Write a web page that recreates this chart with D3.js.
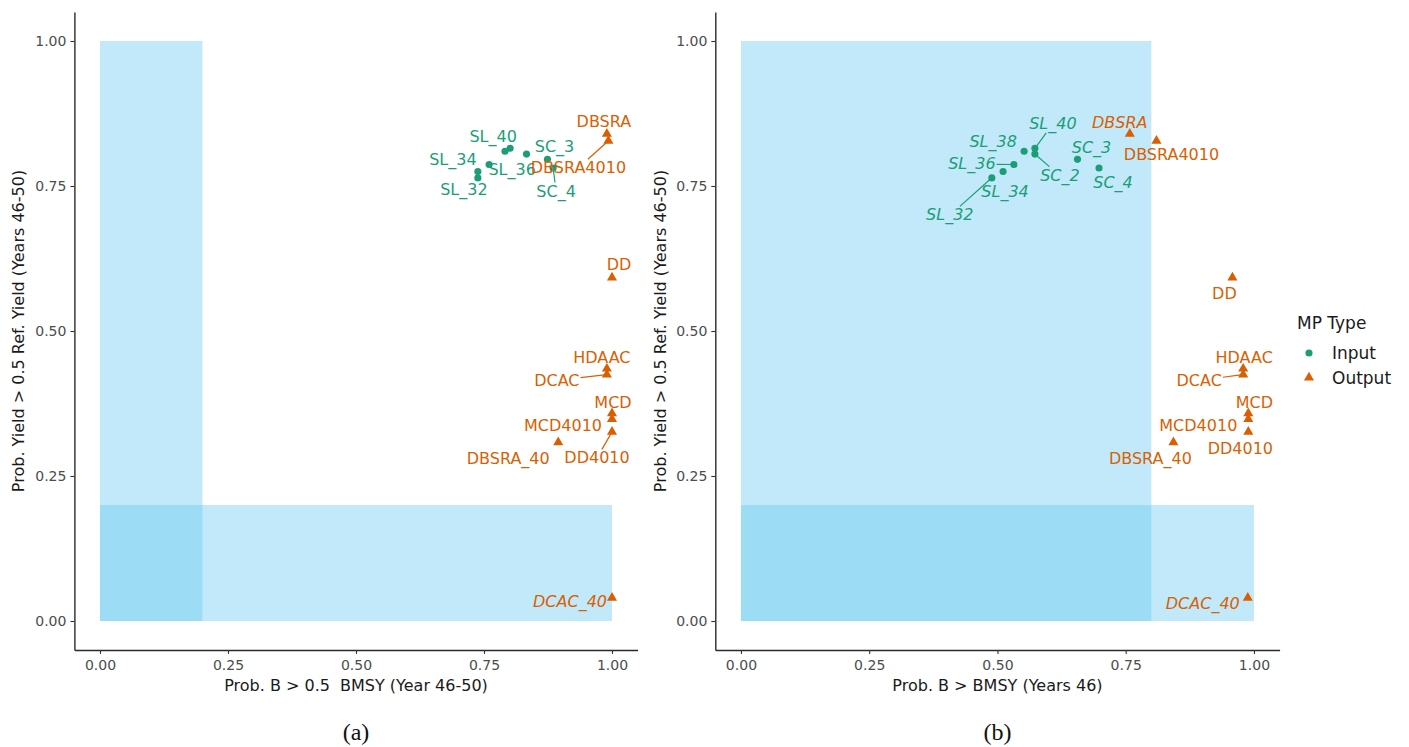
<!DOCTYPE html>
<html>
<head>
<meta charset="utf-8">
<script src="https://cdn.jsdelivr.net/npm/d3@7"></script>
<style>
  body { margin: 0; background: #ffffff; }
  svg text { font-family: "DejaVu Sans", sans-serif; }
</style>
</head>
<body>
<svg id="chart" width="1409" height="747"></svg>
<script>
// Management procedures and their performance statistics
const mpNames = ["SL_32", "SL_34", "SL_36", "SL_38", "SL_40", "SC_2", "SC_3", "SC_4",
                 "DBSRA", "DBSRA4010", "DD", "HDAAC", "DCAC", "MCD", "MCD4010", "DD4010",
                 "DBSRA_40", "DCAC_40"];
const mpTypes = ["Input", "Input", "Input", "Input", "Input", "Input", "Input", "Input",
                 "Output", "Output", "Output", "Output", "Output", "Output", "Output", "Output",
                 "Output", "Output"];
// Prob. Yield > 0.5 Ref. Yield (Years 46-50)
const probYield = [0.764, 0.775, 0.787, 0.810, 0.815, 0.805, 0.796, 0.781,
                   0.840, 0.828, 0.592, 0.435, 0.425, 0.358, 0.348, 0.326,
                   0.308, 0.040];
// Prob. B > 0.5 BMSY (Year 46-50)
const probB05 = [0.738, 0.738, 0.760, 0.791, 0.801, 0.833, 0.874, 0.885,
                 0.990, 0.993, 1.000, 0.990, 0.990, 1.000, 1.000, 1.000,
                 0.895, 1.000];
// Prob. B > BMSY (Years 46)
const probBmsy = [0.489, 0.511, 0.532, 0.552, 0.573, 0.573, 0.656, 0.698,
                  0.758, 0.810, 0.958, 0.979, 0.979, 0.989, 0.989, 0.989,
                  0.843, 0.988];

const tickValues = [0, 0.25, 0.5, 0.75, 1];
const typeNames = ["Input", "Output"];
const typeColors = ["#1b9e77", "#d95f02"];

// Repelled label placement (pixel offsets from each point); null = label dropped
const labelOffsetsA = [[-14, 12], [-25, -12], [23, 5], null, [-17, -12], null, [7, -13], [3, 23],
                       [-3, -12], [-30, 27], [7, -13], [-5, -11], [-50, 6], [1, -11], [-49, 6], [-15, 26],
                       [-50, 16], [-42, 4]];
const labelOffsetsB = [[-42, 37], [2, 20], [-42, -1], [-31, -10], [18, -25], [25, 21], [14, -12], [14, 14],
                       [-10, -11], [15, 14], [-8, 16], [1, -11], [-44, 6], [6, -11], [-50, 6], [-8, 17],
                       [-23, 16], [-45, 6]];
const leadersA = ["SC_4", "DBSRA4010", "DCAC", "DD4010"];
const leadersB = ["SL_32", "SL_36", "SL_40", "SC_2", "DCAC"];

const panels = [
  { x0: 74.4, x1: 637.6, xValues: probB05, shadeX: 0.2,
    xTitle: "Prob. B > 0.5\u00a0\u00a0BMSY (Year 46-50)", caption: "(a)",
    offsets: labelOffsetsA, leaders: leadersA, yTitleX: 18 },
  { x0: 715.3, x1: 1279.6, xValues: probBmsy, shadeX: 0.8,
    xTitle: "Prob. B > BMSY (Years 46)", caption: "(b)",
    offsets: labelOffsetsB, leaders: leadersB, yTitleX: 660 }
];

const svg = d3.select("#chart");
const yTop = 12, yBottom = 650;
const color = d3.scaleOrdinal().domain(typeNames).range(typeColors);
const symbolFor = t => t === "Input" ? d3.symbolCircle : d3.symbolTriangle;
const symbolSize = t => t === "Input" ? 40 : 44;

panels.forEach(p => {
  const x = d3.scaleLinear().domain([-0.05, 1.05]).range([p.x0, p.x1]);
  const y = d3.scaleLinear().domain([-0.05, 1.05]).range([yBottom, yTop]);
  const g = svg.append("g");

  // shaded target regions
  const shades = [
    { xa: 0, xb: p.shadeX, ya: 0, yb: 1 },
    { xa: 0, xb: 1, ya: 0, yb: 0.2 }
  ];
  g.selectAll("rect.shade").data(shades).join("rect")
    .attr("class", "shade")
    .attr("x", d => x(d.xa)).attr("width", d => x(d.xb) - x(d.xa))
    .attr("y", d => y(d.yb)).attr("height", d => y(d.ya) - y(d.yb))
    .attr("fill", "rgb(100,200,240)").attr("fill-opacity", 0.4);

  // axes
  const xAxis = g.append("g").attr("transform", `translate(0,${yBottom})`)
    .call(d3.axisBottom(x).tickValues(tickValues).tickFormat(d3.format(".2f")).tickSize(4).tickSizeOuter(0));
  const yAxis = g.append("g").attr("transform", `translate(${p.x0},0)`)
    .call(d3.axisLeft(y).tickValues(tickValues).tickFormat(d3.format(".2f")).tickSize(4).tickSizeOuter(0));
  [xAxis, yAxis].forEach(a => {
    a.select(".domain").attr("stroke", "#2b2b2b").attr("stroke-width", 1.4);
    a.selectAll(".tick line").attr("stroke", "#333").attr("stroke-width", 1.1);
    a.selectAll(".tick text").attr("fill", "#4d4d4d").style("font-size", "14px")
      .style("font-family", "DejaVu Sans, sans-serif");
  });
  xAxis.selectAll(".tick text").attr("dy", "0.9em");
  yAxis.selectAll(".tick text").attr("x", -8);

  // axis titles
  g.append("text").attr("x", (x(0) + x(1)) / 2).attr("y", 691)
    .attr("text-anchor", "middle").attr("fill", "#1a1a1a").style("font-size", "16px")
    .text(p.xTitle);
  g.append("text").attr("transform", `translate(${p.yTitleX + 6},${(y(0) + y(1)) / 2}) rotate(-90)`)
    .attr("text-anchor", "middle").attr("fill", "#1a1a1a").style("font-size", "16px")
    .text("Prob. Yield > 0.5 Ref. Yield (Years 46-50)");

  // caption
  g.append("text").attr("x", (x(0) + x(1)) / 2).attr("y", 740)
    .attr("text-anchor", "middle").attr("fill", "#111")
    .style("font-family", "Liberation Serif, serif").style("font-size", "24px")
    .text(p.caption);

  const rows = mpNames.map((name, i) => ({
    name, type: mpTypes[i], bx: p.xValues[i], yy: probYield[i], off: p.offsets[i],
    px: x(p.xValues[i]), py: y(probYield[i])
  }));

  // points
  g.selectAll("path.pt").data(rows).join("path")
    .attr("class", "pt")
    .attr("transform", d => `translate(${d.px},${d.py})`)
    .attr("d", d => d3.symbol().type(symbolFor(d.type)).size(symbolSize(d.type))())
    .attr("fill", d => color(d.type));

  // labels (italic when the MP sits inside a shaded region)
  const labelled = rows.filter(d => d.off);
  const labels = g.selectAll("text.lab").data(labelled).join("text")
    .attr("class", "lab")
    .attr("x", d => d.px + d.off[0]).attr("y", d => d.py + d.off[1])
    .attr("text-anchor", "middle").attr("dominant-baseline", "central")
    .attr("fill", d => color(d.type))
    .style("font-size", "16px")
    .style("font-style", d => ((d.bx >= 0 && d.bx <= p.shadeX) || d.yy <= 0.2) ? "italic" : "normal")
    .text(d => d.name);

  // leader segments: from where the centre-to-point line leaves the label box, to the point
  labels.each(function(d) {
    if (!p.leaders.includes(d.name)) return;
    const b = this.getBBox();
    const cx = b.x + b.width / 2, cy = b.y + b.height / 2;
    const hw = b.width / 2 + 1, hh = b.height / 2 - 1;
    const dx = d.px - cx, dy = d.py - cy, len = Math.hypot(dx, dy);
    const t = Math.min(dx !== 0 ? hw / Math.abs(dx) : Infinity, dy !== 0 ? hh / Math.abs(dy) : Infinity);
    const pad = 2.5;
    g.insert("line", "text.lab")
      .attr("x1", cx + dx * t).attr("y1", cy + dy * t)
      .attr("x2", d.px - dx / len * pad).attr("y2", d.py - dy / len * pad)
      .attr("stroke", color(d.type)).attr("stroke-width", 1.2);
  });
});

// legend
const legend = svg.append("g");
legend.append("text").attr("x", 1297).attr("y", 323).attr("dominant-baseline", "central")
  .attr("fill", "#1a1a1a").style("font-size", "17px").text("MP Type");
typeNames.forEach((t, i) => {
  const cy = 353 + i * 24.5;
  legend.append("path").attr("transform", `translate(1309,${cy})`)
    .attr("d", d3.symbol().type(symbolFor(t)).size(symbolSize(t))())
    .attr("fill", color(t));
  legend.append("text").attr("x", 1332).attr("y", cy).attr("dominant-baseline", "central")
    .attr("fill", "#1a1a1a").style("font-size", "17px").text(t);
});
</script>
</body>
</html>
